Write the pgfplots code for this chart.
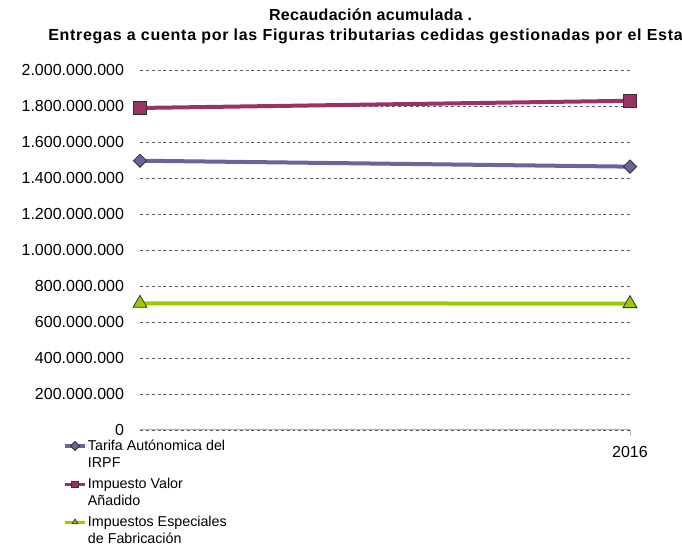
\documentclass[border=0pt]{standalone}
\usepackage{fontspec}
\setmainfont{Liberation Sans}
\usepackage{pgfplots}
\pgfplotsset{compat=1.18}
\definecolor{irpf}{HTML}{666699}
\definecolor{iva}{HTML}{993366}
\definecolor{iiee}{HTML}{99CC00}
\begin{document}
\begin{tikzpicture}
\path[use as bounding box] (0,0) rectangle (511.5pt,414pt);
\begin{axis}[
  at={(105pt,91.5pt)}, anchor=south west,
  scale only axis, width=367.5pt, height=270pt,
  xmin=2015, xmax=2016, ymin=0, ymax=2000000000,
  clip=false,
  axis x line*=bottom, axis y line*=left,
  x axis line style={draw=gray!60, line width=0.75pt, -},
  y axis line style={draw=none},
  ytick={0,200000000,400000000,600000000,800000000,1000000000,1200000000,1400000000,1600000000,1800000000,2000000000},
  scaled y ticks=false,
  yticklabel style={/pgf/number format/fixed, /pgf/number format/precision=0, /pgf/number format/1000 sep={.}, xshift=-8.5pt},
  /pgf/number format/assume math mode=true,
  xtick={2016}, xticklabels={2016},
  x tick style={draw=gray!60, line width=0.75pt},
  xtick align=outside, major tick length=4.5pt,
  y tick style={draw=none},
  ymajorgrids, grid style={dash pattern=on 2.2pt off 2.2pt, draw=gray!70!black, line width=0.6pt},
  tick label style={font=\fontsize{12}{13.5}\selectfont},
  xticklabel style={yshift=-4pt},
  legend style={at={(-0.157,-0.019)}, anchor=north west, draw=none, fill=none,
    font=\fontsize{10.7}{13.1}\selectfont, inner sep=0pt, row sep=15.3pt,
    /tikz/column sep=0pt, nodes={inner xsep=1pt}},
  legend cell align=left,
  legend image code/.code={\draw[mark repeat=2,mark phase=2] plot coordinates {(0cm,0cm) (0.265cm,0cm) (0.53cm,0cm)};},
  legend image post style={mark size=2.4pt, line width=2.4pt},
]
\addplot[irpf, line width=3pt, mark=square*, mark size=3.5pt, mark options={rotate=45, fill=irpf, draw=black!80, line width=0.6pt}]
  coordinates {(2015,1496000000) (2016,1463000000)};
\addlegendentry{\parbox[t]{130pt}{Tarifa Autónomica del\\IRPF}}
\addplot[iva, line width=3pt, mark=square*, mark size=4.9pt, mark options={fill=iva, draw=black!80, line width=0.6pt}]
  coordinates {(2015,1789000000) (2016,1829000000)};
\addlegendentry{\parbox[t]{130pt}{Impuesto Valor\\Añadido}}
\addplot[iiee, line width=3pt, mark=triangle*, mark size=6pt, mark options={fill=iiee, draw=black!80, line width=0.6pt}]
  coordinates {(2015,704000000) (2016,702000000)};
\addlegendentry{\parbox[t]{130pt}{Impuestos Especiales\\de Fabricación}}
\end{axis}
\node[font=\bfseries\fontsize{12}{14}\selectfont\addfontfeatures{LetterSpace=2}, anchor=base, inner sep=0pt] at (277.9pt,398.5pt) {Recaudación acumulada .};
\node[font=\bfseries\fontsize{12}{14}\selectfont\addfontfeatures{LetterSpace=4.5}, anchor=base west, inner sep=0pt] at (36pt,383.5pt) {Entregas a cuenta por las Figuras tributarias cedidas gestionadas por el Estado};
\end{tikzpicture}
\end{document}
